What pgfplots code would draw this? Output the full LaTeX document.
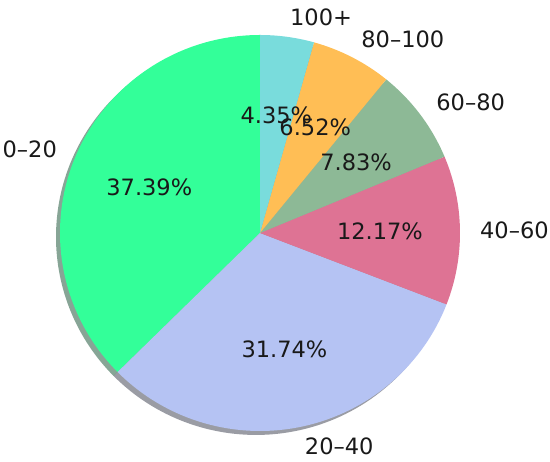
\documentclass[border=0pt]{standalone}
\usepackage{fontspec}
\setmainfont{DejaVu Sans}
\usepackage{pgfplots}
\pgfplotsset{compat=1.18}
\definecolor{cA}{HTML}{33FF99}
\definecolor{cB}{HTML}{B5C3F3}
\definecolor{cC}{HTML}{DE7394}
\definecolor{cD}{HTML}{8DB996}
\definecolor{cE}{HTML}{FFBE55}
\definecolor{cF}{HTML}{79DCDC}
% #1 cumulative start (%), #2 share (%), #3 colour
\newcommand\sliceshadow[3]{%
  \fill[#3!30!black, fill opacity=0.5] (axis cs:-0.02,-0.02) -- (axis cs:{-0.02+cos(90+3.6*#1)},{-0.02+sin(90+3.6*#1)})
     arc[start angle={90+3.6*#1}, end angle={90+3.6*(#1+#2)}, x radius=200bp, y radius=198bp] -- cycle;
}
\newcommand\slice[3]{%
  \fill[#3] (axis cs:0,0) -- (axis cs:{cos(90+3.6*#1)},{sin(90+3.6*#1)})
     arc[start angle={90+3.6*#1}, end angle={90+3.6*(#1+#2)}, x radius=200bp, y radius=198bp] -- cycle;
}
% #1 start, #2 share, #3 label, #4 anchor
\newcommand\slicetext[4]{%
  \node[anchor=#4, inner sep=0pt, font=\fontsize{22.5bp}{26bp}\selectfont, text=black!90] at (axis cs:{1.1*cos(90+3.6*(#1+#2/2))},{1.1*sin(90+3.6*(#1+#2/2))}) {#3};
  \node[anchor=center, inner sep=0pt, font=\fontsize{22.5bp}{26bp}\selectfont, text=black!90] at (axis cs:{0.6*cos(90+3.6*(#1+#2/2))},{0.6*sin(90+3.6*(#1+#2/2))}) {#2\%};
}
\begin{document}
\begin{tikzpicture}
\begin{axis}[
  at={(0,0)}, anchor=south west,
  x=200bp, y=198bp,
  xmin=-1.3, xmax=1.45, ymin=-1.1566, ymax=1.1768,
  hide axis, clip=false,
]
\addplot[draw=none] coordinates {(0,0)};
\sliceshadow{0}{37.39}{cA}
\sliceshadow{37.39}{31.74}{cB}
\sliceshadow{69.13}{12.17}{cC}
\sliceshadow{81.30}{7.83}{cD}
\sliceshadow{89.13}{6.52}{cE}
\sliceshadow{95.65}{4.35}{cF}
\slice{0}{37.39}{cA}
\slice{37.39}{31.74}{cB}
\slice{69.13}{12.17}{cC}
\slice{81.30}{7.83}{cD}
\slice{89.13}{6.52}{cE}
\slice{95.65}{4.35}{cF}
\slicetext{0}{37.39}{0–20}{east}
\slicetext{37.39}{31.74}{20–40}{west}
\slicetext{69.13}{12.17}{40–60}{west}
\slicetext{81.30}{7.83}{60–80}{west}
\slicetext{89.13}{6.52}{80–100}{west}
\slicetext{95.65}{4.35}{100+}{west}
\end{axis}
\pgfresetboundingbox
\useasboundingbox (0,0) rectangle (550bp,462bp);
\end{tikzpicture}
\end{document}
